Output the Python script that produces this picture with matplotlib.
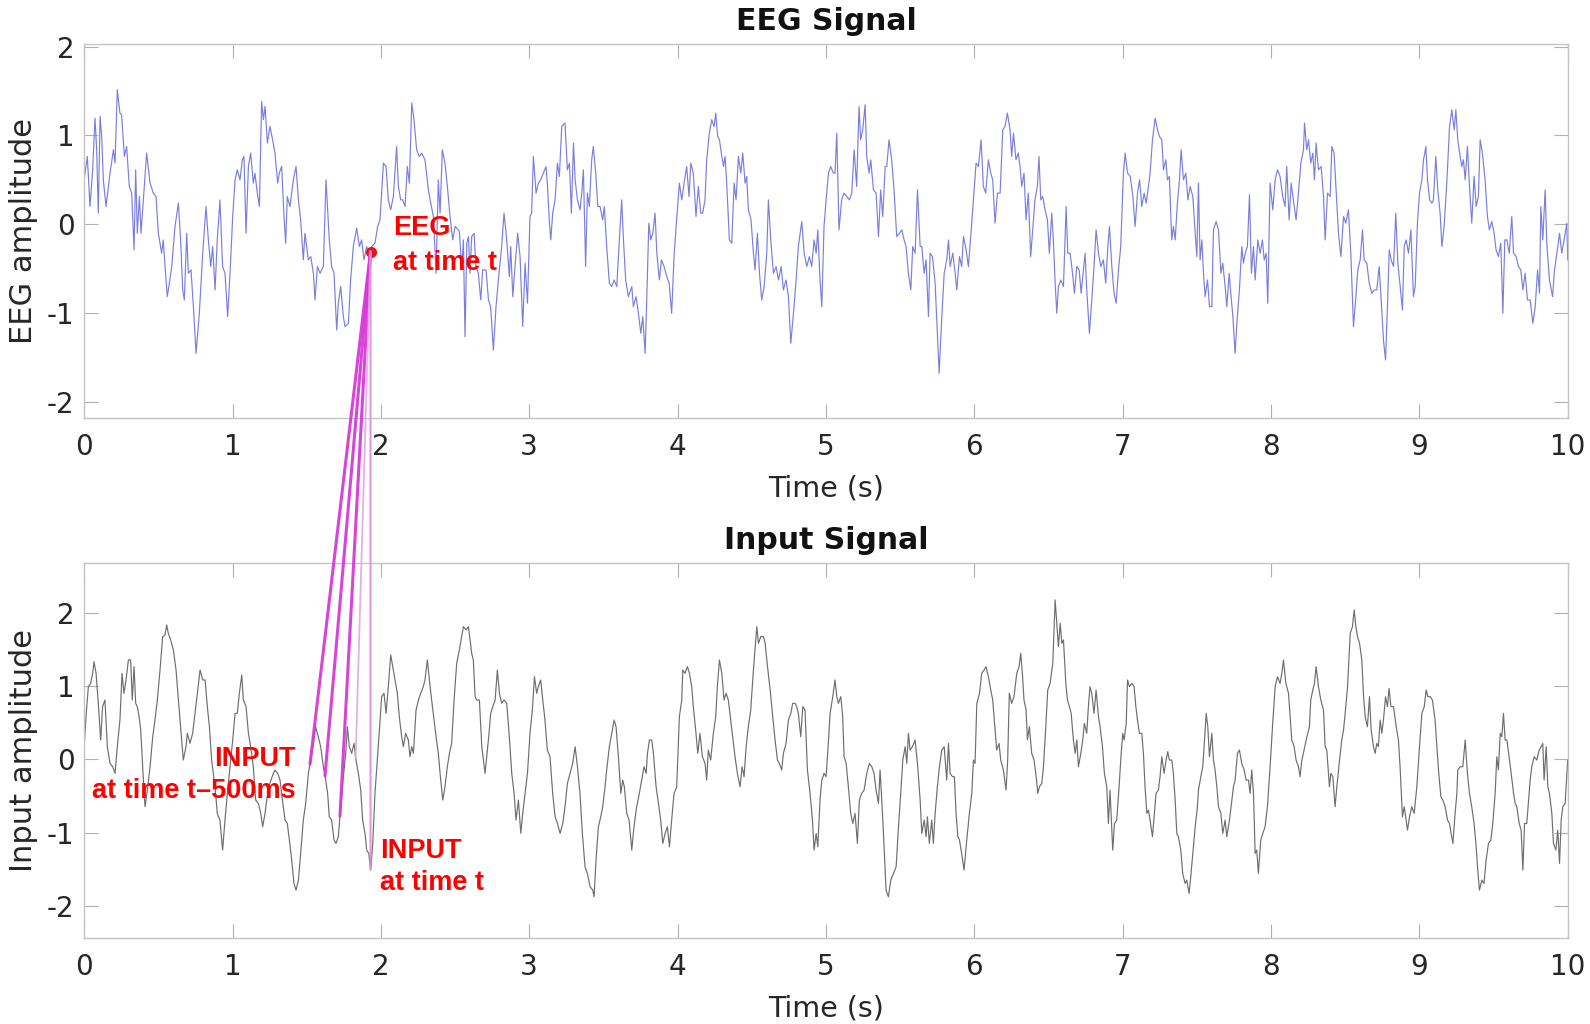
import numpy as np
import matplotlib
matplotlib.use("Agg")
import matplotlib.pyplot as plt
from matplotlib.patches import ConnectionPatch

plt.rcParams['font.family'] = ['DejaVu Sans']
plt.rcParams['axes.unicode_minus'] = False

# ---------------- data ----------------
eeg_t = [
 0.000,0.021,0.039,0.057,0.073,0.084,0.095,0.107,0.118,0.129,0.147,0.174,0.197,0.208,0.223,0.241,0.252,0.271,0.286,0.304,
 0.320,0.336,0.347,0.358,0.372,0.383,0.399,0.421,0.444,0.466,0.484,0.500,0.522,0.533,0.545,0.560,0.574,0.590,0.612,0.635,
 0.650,0.664,0.675,0.691,0.702,0.720,0.736,0.754,0.776,0.799,0.821,0.837,0.853,0.866,0.882,0.897,0.915,0.933,0.949,0.967,
 0.983,1.001,1.017,1.032,1.050,1.066,1.077,1.091,1.107,1.122,1.140,1.151,1.167,1.181,1.196,1.208,1.219,1.235,1.252,1.270,
 1.286,1.304,1.315,1.331,1.347,1.358,1.369,1.387,1.410,1.428,1.444,1.459,1.477,1.488,1.511,1.527,1.545,1.556,1.572,1.590,
 1.612,1.630,1.652,1.668,1.684,1.702,1.713,1.729,1.747,1.758,1.781,1.796,1.814,1.837,1.855,1.870,1.886,1.904,1.922,1.938,
 1.960,1.978,1.994,2.017,2.035,2.050,2.066,2.084,2.106,2.118,2.133,2.147,2.163,2.178,2.192,2.208,2.223,2.241,2.259,2.275,
 2.297,2.320,2.336,2.354,2.372,2.387,2.399,2.414,2.432,2.448,2.466,2.484,2.500,2.522,
 2.529,2.545,2.556,2.567,2.579,2.590,2.601,2.612,2.628,2.641,2.657,2.673,2.686,2.709,2.725,2.740,2.758,2.776,2.792,2.814,
 2.830,2.848,2.866,2.875,2.889,2.904,2.922,2.938,2.956,2.972,2.988,3.005,3.016,3.028,3.046,3.061,3.077,3.095,3.113,3.122,
 3.136,3.145,3.158,3.174,3.190,3.203,3.219,3.241,3.257,3.271,3.284,3.298,3.309,3.325,3.342,3.354,3.365,3.380,3.392,3.405,
 3.421,3.432,3.448,3.462,3.477,3.495,3.506,3.522,3.540,3.556,3.572,3.590,3.601,3.623,3.635,3.650,3.668,3.691,3.702,3.720,
 3.736,3.752,3.765,3.781,3.792,3.806,3.819,3.833,3.848,3.860,3.877,3.891,3.909,3.927,3.943,3.960,3.976,3.990,4.012,4.028,
 4.044,4.061,4.077,4.089,4.106,4.124,4.140,4.156,4.169,4.185,4.196,4.214,4.230,4.246,4.257,4.270,4.282,4.298,4.309,4.320,
 4.331,4.349,4.365,4.381,4.394,4.410,4.426,4.439,4.455,4.466,4.477,4.495,4.511,4.522,4.538,4.552,4.567,4.583,4.601,4.612,
 4.628,4.646,4.664,4.680,4.698,4.713,4.731,4.747,4.763,4.781,4.799,4.814,4.837,4.853,4.871,4.888,4.904,4.920,4.934,4.945,
 4.960,4.972,4.987,
 5.001,5.017,5.032,5.050,5.061,5.073,5.088,5.106,5.122,5.140,5.158,5.174,5.190,5.207,5.223,5.234,5.248,5.264,5.275,5.291,
 5.302,5.320,5.338,5.354,5.369,5.383,5.399,5.410,5.425,5.443,5.459,5.477,5.495,5.511,5.527,5.540,5.556,5.572,5.585,5.601,
 5.617,5.635,5.646,5.662,5.675,5.691,5.702,5.718,5.736,5.747,5.763,5.781,5.797,5.814,5.826,5.837,5.855,5.871,5.882,5.900,
 5.915,5.927,5.945,5.960,5.976,5.994,6.012,6.028,6.046,6.061,6.077,6.095,6.111,6.124,6.140,6.156,6.174,6.192,6.207,6.223,
 6.241,6.252,6.264,6.281,6.297,6.308,6.320,6.335,6.349,6.364,6.380,6.394,6.409,6.425,6.436,6.448,6.461,6.477,6.493,6.506,
 6.522,6.533,6.545,6.556,6.567,6.583,6.601,6.619,6.630,6.646,6.662,6.675,6.691,6.707,6.720,6.736,6.747,6.758,6.776,6.792,
 6.807,6.821,6.837,6.853,6.870,6.886,6.900,6.911,6.927,6.942,6.956,6.972,6.987,7.005,7.017,7.033,7.051,7.069,7.084,7.100,
 7.114,7.129,7.145,7.159,7.174,7.185,7.201,7.219,7.235,7.248,7.264,7.275,7.291,7.302,7.315,7.331,7.342,7.354,7.369,7.383,
 7.394,7.410,7.426,7.440,7.455,7.473,7.489,7.500,
 7.511,7.522,7.534,7.545,7.556,7.572,7.585,7.601,7.612,7.630,7.646,7.662,7.675,7.691,7.702,7.718,7.729,7.743,7.758,7.770,
 7.787,7.803,7.814,7.826,7.841,7.855,7.868,7.882,7.893,7.911,7.927,7.942,7.954,7.967,7.978,7.994,8.012,8.028,8.044,8.061,
 8.079,8.095,8.106,8.122,8.136,8.151,8.169,8.185,8.201,8.219,8.226,8.241,8.253,8.268,8.282,8.293,8.304,8.320,8.338,8.354,
 8.365,8.381,8.399,8.410,8.425,8.439,8.455,8.471,8.489,8.504,8.522,8.538,8.556,8.572,8.585,8.601,8.617,8.628,8.646,8.662,
 8.680,8.695,8.713,8.729,8.740,8.758,8.772,8.785,8.797,8.810,8.826,8.841,8.855,8.871,8.886,8.898,8.911,8.927,8.943,8.960,
 8.972,8.987,9.001,9.017,9.028,9.044,9.055,9.069,9.084,9.095,9.111,9.124,9.140,9.152,9.167,9.185,9.203,9.219,9.235,9.246,
 9.259,9.275,9.286,9.297,9.309,9.324,9.338,9.353,9.369,9.383,9.398,9.410,9.425,9.443,9.459,9.472,9.488,9.504,9.517,9.533,
 9.549,9.563,9.576,9.590,9.606,9.623,9.635,9.653,9.668,9.684,9.698,9.713,9.729,9.747,9.765,9.781,9.797,9.810,9.819,9.832,
 9.848,9.859,9.877,9.898,9.911,9.927,9.945,9.960,9.976,9.994,10.000]
eeg_v = [
 0.500,0.763,0.199,0.613,1.195,0.838,0.124,1.214,0.989,0.500,0.199,0.575,0.838,0.688,1.515,1.252,1.233,0.763,0.876,0.425,
 0.350,-0.289,0.613,-0.102,0.312,-0.102,0.274,0.801,0.462,0.350,0.312,-0.102,-0.327,-0.177,-0.477,-0.816,-0.665,-0.477,-0.026,0.237,
 -0.177,-0.741,-0.853,-0.102,-0.553,-0.515,-0.929,-1.455,-1.004,-0.327,0.199,-0.177,-0.477,-0.252,-0.741,-0.177,0.274,-0.477,-0.553,-1.041,
 -0.553,0.086,0.500,0.613,0.500,0.726,0.763,-0.102,0.650,0.801,0.462,0.575,0.350,0.199,1.383,1.177,1.327,0.914,1.102,0.951,
 0.801,0.462,0.575,0.650,0.086,-0.214,0.312,0.199,0.500,0.650,0.274,0.049,-0.402,-0.102,-0.402,-0.365,-0.553,-0.853,-0.477,-0.553,
 -0.477,0.500,-0.177,-0.477,-0.553,-1.192,-0.891,-0.703,-1.041,-1.154,-1.117,-0.628,-0.252,-0.045,-0.252,-0.177,-0.402,-0.252,-0.365,-0.252,
 -0.214,-0.026,0.049,0.688,0.650,0.274,0.162,0.312,0.876,0.425,0.274,0.274,0.199,0.650,0.462,1.365,1.177,0.838,0.763,0.801,
 0.726,0.387,0.237,0.086,-0.553,0.500,0.124,0.838,0.688,0.425,0.086,-0.177,-0.026,-0.064,
 -0.083,-0.515,-0.177,-1.267,-0.214,-0.139,-0.553,-0.139,-0.102,-0.477,-0.553,-0.853,-0.515,-0.515,-0.853,-0.929,-1.417,-0.929,-0.628,-0.252,
 0.124,-0.177,-0.590,-0.252,-0.816,-0.477,-0.102,-0.365,-1.154,-0.440,-0.891,0.086,0.124,0.763,0.350,0.462,0.500,0.575,0.650,0.462,
 0.011,-0.177,0.124,0.274,0.688,0.538,1.102,1.139,0.613,0.688,0.124,0.914,0.500,0.274,0.162,0.350,0.613,-0.477,0.350,0.199,
 0.726,0.876,0.575,0.199,0.199,0.049,0.199,-0.252,-0.665,-0.703,-0.628,-0.703,-0.365,0.274,-0.177,-0.628,-0.816,-0.703,-0.929,-0.816,
 -1.004,-1.229,-1.041,-1.455,-0.853,0.011,-0.177,-0.102,0.124,-0.327,-0.628,-0.402,-0.477,-0.590,-0.665,-1.004,-0.365,-0.026,0.462,0.274,
 0.462,0.650,0.312,0.688,0.575,0.086,0.425,0.124,0.124,0.274,0.726,1.026,1.177,1.102,1.252,0.989,0.951,0.763,0.650,0.763,
 0.462,-0.177,-0.214,0.462,0.274,0.763,0.575,0.801,0.462,0.538,0.162,0.049,-0.327,-0.515,-0.102,-0.553,-0.853,-0.703,-0.327,0.274,
 -0.177,-0.553,-0.477,-0.628,-0.477,-0.741,-0.628,-0.816,-1.342,-1.004,-0.628,-0.252,0.030,-0.327,-0.477,-0.365,-0.477,-0.177,-0.327,-0.064,
 -0.628,-0.929,-0.026,
 0.274,0.575,0.650,0.575,0.575,1.026,-0.064,0.274,0.350,0.312,0.274,0.350,0.838,0.425,1.327,0.951,1.064,1.346,0.763,0.575,
 0.726,0.387,0.350,-0.139,0.387,0.086,0.650,0.650,0.951,0.726,0.387,-0.139,-0.102,-0.064,-0.177,-0.252,-0.553,-0.741,-0.252,-0.327,
 0.387,-0.252,-0.252,-0.553,-0.402,-1.041,-0.327,-0.365,-0.665,-1.079,-1.680,-1.041,-0.553,-0.402,-0.177,-0.477,-0.327,-0.553,-0.741,-0.365,
 -0.477,-0.139,-0.289,-0.477,-0.139,0.274,0.688,0.650,0.951,0.425,0.350,0.726,0.575,0.500,0.011,0.350,0.350,1.064,1.102,1.252,
 1.064,0.763,1.026,0.726,0.801,0.650,0.425,0.575,0.049,0.350,-0.365,-0.064,0.274,0.425,0.763,0.274,0.312,0.162,0.049,-0.327,
 0.124,-0.177,-0.665,-1.004,-0.703,-0.628,-0.703,0.199,-0.327,-0.327,-0.553,-0.778,-0.477,-0.515,-0.778,-0.515,-0.327,-0.741,-1.229,-0.853,
 -0.477,-0.064,-0.327,-0.477,-0.402,-0.665,-0.252,-0.026,-0.477,-0.778,-0.891,-0.515,-0.252,0.575,0.801,0.575,0.538,0.312,-0.026,0.350,
 0.500,0.199,0.350,0.237,0.425,0.575,0.951,1.195,1.064,0.989,0.951,0.613,0.726,0.500,0.538,-0.177,-0.026,-0.177,0.237,0.500,
 0.838,0.500,0.575,0.274,0.425,0.312,-0.102,-0.365,
 0.462,-0.402,-0.177,-0.553,-0.816,-0.628,-0.929,-0.929,-0.064,0.030,-0.064,-0.553,-0.440,-0.703,-0.929,-0.553,-0.778,-1.041,-1.455,-1.117,
 -0.741,-0.252,-0.440,-0.327,-0.252,0.331,-0.553,-0.252,-0.628,-0.177,-0.327,-0.177,-0.402,-0.327,-0.891,0.462,0.162,0.500,0.613,0.538,
 0.312,0.199,0.650,0.049,0.462,0.274,0.049,0.350,0.688,0.838,1.139,0.838,0.951,0.688,0.801,0.500,0.914,0.613,0.650,0.312,
 -0.177,0.350,0.312,0.876,0.801,0.387,-0.102,-0.365,0.086,0.011,0.162,-0.327,-1.154,-0.816,-0.515,-0.402,-0.064,-0.402,-0.440,-0.665,
 -0.778,-0.741,-0.741,-0.477,-0.778,-1.305,-1.530,-0.929,-0.289,-0.402,-0.477,0.124,-0.440,-0.703,-0.966,-0.252,-0.177,-0.327,-0.064,-0.816,
 -0.703,0.011,0.350,0.500,0.726,0.876,0.500,0.274,0.237,0.274,0.763,0.387,0.124,-0.252,-0.026,0.462,1.083,1.289,1.064,1.289,
 0.951,0.763,0.650,0.726,0.500,0.876,0.425,0.011,0.538,0.199,0.312,0.951,0.801,0.500,0.086,-0.064,0.030,-0.102,-0.289,-0.365,
 -0.214,-1.004,-0.177,-0.177,-0.327,0.086,-0.327,-0.365,-0.477,-0.515,-0.741,-0.553,-0.853,-0.853,-1.117,-0.929,-0.515,-0.778,0.199,-0.177,
 0.387,-0.214,-0.628,-0.816,-0.515,-0.327,-0.102,-0.327,-0.177,0.011,-0.402]

inp_t = [
 0.000,0.012,0.028,0.044,0.057,0.066,0.080,0.095,0.111,0.124,0.140,0.156,0.174,0.192,0.208,0.223,0.241,0.255,0.268,0.282,
 0.298,0.313,0.324,0.336,0.347,0.358,0.370,0.381,0.394,0.410,0.426,0.444,0.462,0.477,0.493,0.511,0.529,0.545,0.556,0.567,
 0.583,0.601,0.619,0.635,0.650,0.668,0.686,0.695,0.713,0.731,0.747,0.763,0.781,0.799,0.815,0.830,0.844,0.859,0.882,0.897,
 0.915,0.933,0.949,0.965,0.983,1.001,1.017,1.032,1.046,1.062,1.073,1.091,1.107,1.122,1.140,1.156,1.174,1.190,1.203,1.219,
 1.230,1.246,1.259,1.275,1.286,1.304,1.320,1.336,1.354,1.369,1.383,1.399,1.414,1.428,1.444,1.459,1.477,1.493,1.511,1.527,
 1.545,1.560,1.578,1.594,1.612,1.628,1.641,1.652,1.668,1.684,1.697,1.713,1.729,1.747,1.763,1.774,1.787,1.803,1.819,1.832,
 1.848,1.864,1.877,1.893,1.904,1.918,1.931,1.945,1.960,1.976,1.990,2.005,2.021,2.035,2.050,2.066,2.080,2.095,2.111,2.124,
 2.140,2.151,2.167,2.185,2.196,2.208,2.219,2.237,2.253,2.268,2.286,2.297,2.313,2.327,2.342,2.358,2.372,2.387,2.399,2.417,
 2.432,2.448,2.462,2.477,2.493,2.511,2.529,
 2.556,2.574,2.590,2.601,2.612,2.623,2.635,2.646,2.664,2.680,2.691,2.702,2.713,2.729,2.740,2.754,2.770,2.785,2.799,2.814,
 2.830,2.848,2.864,2.882,2.898,2.911,2.927,2.943,2.956,2.972,2.988,3.005,3.021,3.035,3.050,3.061,3.077,3.091,3.106,3.122,
 3.140,3.158,3.174,3.190,3.208,3.226,3.241,3.257,3.275,3.293,3.309,3.325,3.342,3.358,3.376,3.392,3.410,3.428,3.437,3.450,
 3.466,3.482,3.495,3.511,3.522,3.540,3.556,3.572,3.585,3.601,3.617,3.630,3.641,3.657,3.673,3.691,3.706,3.724,3.742,3.758,
 3.774,3.788,3.797,3.810,3.826,3.837,3.855,3.871,3.886,3.900,3.916,3.931,3.945,3.960,3.976,3.994,4.012,4.028,4.035,4.050,
 4.066,4.080,4.095,4.106,4.124,4.136,4.151,4.167,4.185,4.196,4.207,4.223,4.241,4.257,4.268,4.282,4.298,4.313,4.327,4.342,
 4.358,4.372,4.387,4.403,4.421,4.435,4.448,4.462,4.477,4.493,4.511,4.527,4.534,4.545,4.561,4.579,4.590,4.606,4.624,4.639,
 4.657,4.673,4.686,4.702,4.713,4.731,4.747,4.763,4.776,4.792,4.803,4.814,4.830,4.844,4.859,4.875,4.893,4.909,4.920,4.934,
 4.945,4.960,4.972,4.987,5.001,5.016,
 5.028,5.046,5.061,5.073,5.084,5.100,5.113,5.122,5.136,5.151,5.167,5.181,5.196,5.212,5.225,5.241,5.257,5.275,5.293,5.309,
 5.324,5.338,5.354,5.365,5.381,5.394,5.405,5.421,5.437,5.455,5.473,5.489,5.504,5.518,5.534,5.545,5.556,5.567,5.583,5.601,
 5.617,5.635,5.646,5.662,5.675,5.684,5.697,5.713,5.724,5.736,5.751,5.765,5.781,5.797,5.814,5.826,5.837,5.853,5.866,5.877,
 5.889,5.900,5.915,5.931,5.949,5.967,5.983,5.994,6.005,6.017,6.035,6.050,6.066,6.079,6.095,6.111,6.124,6.140,6.151,6.167,
 6.178,6.196,6.214,6.225,6.236,6.252,6.268,6.286,6.302,6.313,6.324,6.335,6.349,6.358,6.371,6.387,6.403,6.417,6.428,6.439,
 6.455,6.466,6.482,6.495,6.511,6.529,6.545,6.556,6.567,6.579,6.590,6.601,6.617,6.628,6.641,6.653,6.668,6.680,6.691,6.702,
 6.718,6.731,6.742,6.758,6.769,6.780,6.792,6.807,6.821,6.837,6.848,6.864,6.877,6.893,6.904,6.915,6.933,6.945,6.960,6.976,
 6.990,7.001,7.010,7.024,7.033,7.046,7.062,7.077,7.089,7.100,7.113,7.129,7.140,7.151,7.163,7.174,7.185,7.201,7.214,7.225,
 7.241,7.252,7.264,7.279,7.293,7.304,7.315,7.331,7.342,7.354,7.365,7.376,7.392,7.405,7.421,7.432,7.448,7.459,7.473,7.489,
 7.504,
 7.511,7.527,7.540,7.549,7.563,7.574,7.585,7.601,7.612,7.623,7.635,7.646,7.662,7.675,7.691,7.702,7.720,7.736,7.747,7.758,
 7.774,7.787,7.803,7.819,7.832,7.848,7.859,7.870,7.882,7.893,7.904,7.915,7.931,7.945,7.960,7.976,7.994,8.010,8.028,8.044,
 8.061,8.073,8.084,8.100,8.118,8.129,8.140,8.156,8.169,8.185,8.196,8.208,8.223,8.237,8.248,8.259,8.268,8.282,8.293,8.304,
 8.320,8.336,8.354,8.365,8.376,8.394,8.403,8.417,8.432,8.444,8.462,8.477,8.489,8.500,8.516,8.534,8.549,8.561,8.572,8.583,
 8.597,8.612,8.624,8.635,8.650,8.664,8.675,8.691,8.702,8.713,8.724,8.736,8.747,8.758,8.772,8.785,8.796,8.808,8.826,8.844,
 8.859,8.870,8.886,8.898,8.911,8.920,8.934,8.949,8.965,8.983,9.001,9.017,9.033,9.046,9.057,9.073,9.088,9.106,9.118,9.129,
 9.145,9.158,9.174,9.190,9.203,9.214,9.226,9.241,9.253,9.259,9.275,9.293,9.309,9.324,9.338,9.353,9.369,9.383,9.392,9.405,
 9.421,9.436,9.450,9.466,9.482,9.495,9.511,9.522,9.533,9.545,9.556,9.567,9.578,9.590,9.605,9.619,9.635,9.646,9.657,9.673,
 9.686,9.698,9.709,9.724,9.736,9.747,9.758,9.774,9.792,9.808,9.821,9.832,9.841,9.855,9.866,9.877,9.893,9.904,9.920,9.933,
 9.945,9.956,9.967,9.983,10.000]
inp_v = [
 0.173,0.582,0.991,1.036,1.173,1.332,1.173,0.764,0.264,0.718,0.809,0.173,-0.055,-0.100,-0.191,0.173,0.536,1.173,0.900,1.082,
 1.355,1.355,0.809,1.264,0.764,0.718,0.582,0.400,-0.100,-0.645,-0.418,-0.100,0.309,0.536,0.809,1.218,1.673,1.695,1.832,1.718,
 1.627,1.491,1.218,0.809,0.445,-0.009,0.173,0.355,0.218,0.355,0.627,0.900,1.218,1.082,1.082,0.718,0.445,-0.009,-0.373,-0.736,
 -0.827,-1.236,-0.827,-0.464,-0.100,0.264,0.627,0.627,0.900,1.150,0.809,0.718,0.355,0.173,-0.100,-0.555,-0.600,-0.736,-0.918,-0.736,
 -0.555,-0.373,-0.282,-0.191,-0.145,-0.191,-0.282,-0.555,-0.827,-0.873,-1.100,-1.373,-1.691,-1.782,-1.645,-1.282,-0.827,-0.600,-0.191,-0.009,
 0.218,0.445,0.309,0.173,-0.100,-0.282,-0.464,-0.782,-0.827,-1.100,-1.145,-1.055,-0.645,-0.236,0.082,0.445,0.173,0.082,0.218,-0.009,
 -0.191,-0.418,-0.827,-1.009,-1.236,-1.282,-1.509,-1.145,-0.464,-0.009,0.400,0.855,0.900,0.627,0.991,1.423,1.264,1.082,0.900,0.582,
 0.309,0.173,0.355,0.264,0.036,0.173,0.082,0.673,0.809,0.900,0.991,1.082,1.355,1.082,0.809,0.536,0.309,0.082,-0.191,-0.555,
 -0.373,-0.100,0.082,0.218,0.809,1.309,1.491,
 1.809,1.764,1.809,1.627,1.445,1.355,0.855,0.809,0.809,0.173,-0.009,-0.191,0.036,0.355,0.627,0.718,0.809,1.218,0.900,0.764,
 0.809,0.764,0.355,-0.191,-0.464,-0.827,-0.555,-1.009,-0.736,-0.464,-0.191,0.355,0.673,1.127,0.900,0.991,1.082,0.809,0.536,0.127,
 0.036,-0.464,-0.782,-0.873,-1.009,-0.873,-0.645,-0.327,-0.191,-0.055,0.173,-0.100,-0.464,-1.009,-1.464,-1.555,-1.736,-1.782,-1.873,-1.373,
 -0.918,-0.782,-0.645,-0.373,-0.145,0.173,0.355,0.536,0.445,0.036,-0.464,-0.282,-0.373,-0.736,-0.827,-1.236,-0.918,-0.645,-0.464,-0.282,
 -0.100,-0.191,0.082,0.264,0.264,0.082,-0.373,-0.600,-0.827,-1.145,-1.009,-0.918,-1.191,-0.827,-0.464,-0.373,0.582,0.809,1.218,1.173,
 1.264,1.173,0.991,0.718,0.355,0.082,0.355,0.036,-0.055,-0.282,0.127,-0.009,0.355,0.582,0.991,1.355,1.173,0.809,0.900,0.809,
 0.536,0.309,0.036,-0.191,-0.373,-0.100,-0.236,0.173,0.445,0.673,1.218,1.627,1.809,1.582,1.673,1.673,1.582,1.264,0.945,0.627,
 0.264,-0.009,-0.055,-0.145,0.082,0.218,0.536,0.627,0.764,0.764,0.718,0.627,0.309,0.718,0.673,-0.145,-0.464,-0.827,-1.236,-1.009,
 -1.191,-0.555,-0.282,-0.191,-0.236,0.218,
 0.627,0.855,1.082,0.855,0.764,0.855,0.582,0.036,-0.055,-0.373,-0.736,-0.873,-0.736,-1.145,-0.555,-0.464,-0.418,-0.191,-0.055,-0.100,
 -0.191,-0.418,-0.600,-0.145,-0.736,-1.282,-1.782,-1.873,-1.645,-1.555,-1.464,-0.918,-0.464,-0.009,0.173,-0.055,0.355,0.127,0.173,0.264,
 -0.055,-0.555,-1.009,-0.827,-1.055,-0.782,-1.145,-0.827,-1.145,-0.736,-0.373,-0.100,0.127,0.173,-0.282,0.218,-0.191,-0.236,-0.236,-0.736,
 -1.055,-1.100,-1.282,-1.509,-1.100,-0.736,-0.464,-0.009,-0.055,0.764,0.900,1.173,1.218,1.264,1.127,0.945,0.809,0.400,0.127,0.218,
 -0.009,-0.145,-0.418,-0.009,0.900,0.764,0.855,1.173,1.264,1.445,1.173,0.809,0.673,0.264,0.445,0.082,-0.009,-0.236,-0.464,-0.373,
 -0.327,-0.100,0.445,0.945,1.036,1.309,2.173,1.855,1.536,1.855,1.582,1.627,1.036,0.809,0.718,0.627,0.264,0.082,0.264,-0.100,
 0.082,0.264,0.491,0.355,0.718,0.991,0.900,0.627,0.945,0.582,0.445,0.173,-0.191,-0.373,-0.873,-0.418,-1.236,-0.873,-0.827,-0.373,
 0.082,0.355,0.264,0.491,1.082,0.991,1.036,0.991,0.718,0.536,0.355,0.355,0.082,-0.373,-0.736,-0.691,-0.827,-1.055,-0.736,-0.464,
 -0.418,-0.236,0.036,-0.191,-0.009,0.105,-0.009,-0.009,-0.191,-0.555,-1.009,-1.055,-1.236,-1.555,-1.691,-1.645,-1.827,-1.600,-1.282,-0.918,
 -0.645,
 -0.418,-0.236,-0.100,0.173,0.627,0.445,0.036,0.355,-0.009,-0.145,-0.373,-0.645,-0.736,-1.009,-0.827,-1.055,-0.827,-0.555,-0.373,-0.282,
 0.082,0.127,-0.055,-0.145,-0.282,-0.282,-0.464,-0.145,-0.464,-1.282,-1.236,-1.555,-1.100,-1.009,-0.918,-0.645,-0.100,0.445,0.991,1.127,
 1.036,1.173,1.355,1.036,0.900,0.582,0.264,0.173,-0.009,-0.100,-0.236,-0.009,0.127,0.264,0.355,0.445,0.809,0.945,1.036,1.264,
 0.991,0.809,0.673,0.173,0.127,-0.373,-0.191,-0.236,-0.645,-0.373,-0.009,0.264,0.400,0.627,0.991,1.718,1.809,2.036,1.809,1.673,
 1.582,1.355,0.855,0.582,0.445,0.855,0.400,0.173,0.082,0.218,0.173,0.536,0.355,0.536,0.855,0.718,0.968,0.718,0.718,0.445,
 0.264,-0.100,-0.782,-0.645,-0.827,-0.964,-0.782,-0.645,-0.736,-0.373,0.173,0.627,0.718,0.945,0.855,0.855,0.809,0.536,0.173,-0.145,
 -0.509,-0.555,-0.645,-0.827,-0.873,-1.009,-1.145,-0.736,-0.464,-0.145,-0.100,-0.100,0.264,-0.191,-0.464,-0.645,-0.873,-1.191,-1.464,-1.782,
 -1.645,-1.691,-1.373,-1.145,-1.100,-0.873,-0.464,0.036,-0.145,0.355,0.309,0.627,0.264,0.264,0.036,-0.191,-0.464,-0.600,-0.645,-0.873,
 -0.964,-1.509,-0.873,-0.873,-0.555,-0.282,-0.100,0.036,-0.009,0.127,0.173,0.218,-0.282,0.173,-0.373,-0.464,-0.736,-1.145,-1.236,-0.964,
 -1.418,-0.827,-0.645,-0.600,-0.010]

x_ticks = [0, 1, 2, 3, 4, 5, 6, 7, 8, 9, 10]
y_ticks = [-2, -1, 0, 1, 2]
t_now = 1.93                                   # time t marked on the EEG
lag_times = [1.522, 1.623, 1.724, 1.83, 1.93]  # input samples linked to it

# ---------------- figure ----------------
W, H = 1590, 1024
fig = plt.figure(figsize=(W / 100, H / 100), dpi=100)
ax1 = fig.add_axes([84.2 / W, 1 - 417.7 / H, (1567.7 - 84.2) / W, (417.7 - 44) / H])
ax2 = fig.add_axes([84.2 / W, 1 - 937.7 / H, (1567.7 - 84.2) / W, (937.7 - 562.7) / H])

eeg_col = '#7a7ee0'
inp_col = '#6e6e6e'
ax1.plot(eeg_t, eeg_v, color=eeg_col, lw=0.85)
ax2.plot(inp_t, inp_v, color=inp_col, lw=0.85)

ax1.set_ylim(-2.18, 2.03)
ax2.set_ylim(-2.43, 2.68)
tick_col = '#262626'
for ax, title, ylab in [(ax1, 'EEG Signal', 'EEG amplitude'), (ax2, 'Input Signal', 'Input amplitude')]:
    ax.set_xlim(0, 10)
    ax.set_xticks(x_ticks)
    ax.set_yticks(y_ticks)
    ax.tick_params(direction='in', length=10, width=0.8, color='#b0b0b0',
                   top=True, right=True, labelsize=20, labelcolor=tick_col)
    ax.tick_params(axis='x', pad=11)
    ax.tick_params(axis='y', pad=7)
    for s in ax.spines.values():
        s.set_color('#c4c4c4')
        s.set_linewidth(1.0)
    ax.set_title(title, fontsize=21.5, fontweight='bold', color='#111111', pad=10)
    ax.set_xlabel('Time (s)', fontsize=20.5, color=tick_col, labelpad=10)
    ax.set_ylabel(ylab, fontsize=22, color=tick_col)
    ax.yaxis.set_label_coords(-0.031, 0.5)

# EEG point at time t
eeg_now = float(np.interp(t_now, eeg_t, eeg_v))
ax1.plot([t_now], [eeg_now], 'o', color='#ee1111', ms=7, zorder=5)

# connector lines from EEG(t) to input samples from t-500ms to t
styles = [('#d63ad6', 2.2, 0.95), ('#d63ad6', 2.2, 0.95), ('#d63ad6', 2.2, 0.95),
          ('#dda8e6', 1.3, 0.9), ('#e58ad8', 1.5, 0.9)]
for tk, (c, lw, a) in zip(lag_times, styles):
    yk = float(np.interp(tk, inp_t, inp_v))
    con = ConnectionPatch(xyA=(t_now, eeg_now), coordsA=ax1.transData,
                          xyB=(tk, yk), coordsB=ax2.transData,
                          color=c, lw=lw, alpha=a, zorder=4)
    fig.add_artist(con)

red = '#ff0000'
rfont = ['Liberation Sans', 'DejaVu Sans']
ax1.text(2.08, -0.245, 'EEG\nat time t', color=red, fontsize=19.5, fontweight='bold',
         family=rfont, ha='left', va='center', linespacing=1.45)
ax2.text(1.428, -0.21, 'INPUT\nat time t\u2013500ms', color=red, fontsize=19.5, fontweight='bold',
         family=rfont, ha='right', va='center', multialignment='right', linespacing=1.3)
ax2.text(1.996, -1.47, 'INPUT\nat time t', color=red, fontsize=19.5, fontweight='bold',
         family=rfont, ha='left', va='center', linespacing=1.3)

fig.savefig('out.png', dpi=100)
